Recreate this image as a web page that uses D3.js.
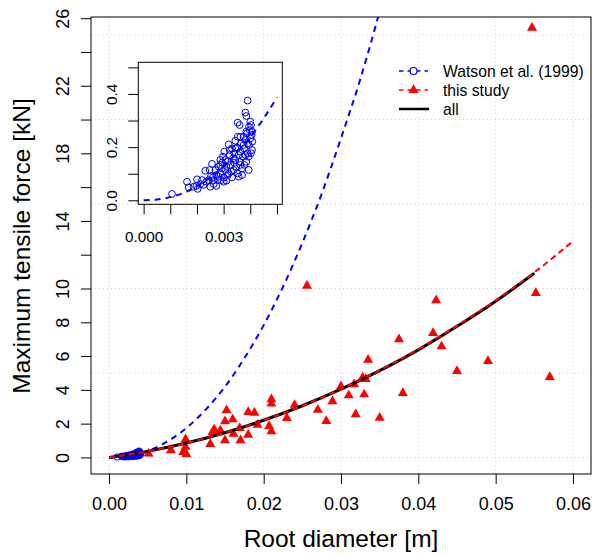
<!DOCTYPE html>
<html><head><meta charset="utf-8">
<script src="https://cdn.jsdelivr.net/npm/d3@7"></script>
<style>
html,body{margin:0;padding:0;background:#fff;}
svg{display:block;font-family:"Liberation Sans",Arial,Helvetica,sans-serif;}
</style></head><body>
<svg id="chart" width="592" height="555"></svg>
<script>
// ---------- data ----------
const studyDiameter = [0.0051,0.0080,0.0099,0.0099,0.0096,0.0100,0.0131,0.0134,0.0136,0.0144,0.0150,0.0150,0.0152,0.0160,0.0161,0.0169,0.0170,0.0180,0.0180,0.0188,0.0192,0.0207,0.0210,0.0210,0.0210,
  0.0256,0.0423,0.0552,0.0419,0.0375,0.0430,0.0335,0.0490,0.0450,0.0570,0.0328,0.0332,0.0300,0.0317,0.0310,0.0330,0.0380,0.0240,0.0289,0.0270,0.0319,0.0350,0.0281,0.0230,0.0547];
const studyForce = [0.22,0.42,1.07,0.62,0.32,0.20,0.79,1.50,1.66,1.60,1.01,2.14,2.79,2.25,1.40,1.74,1.01,2.69,1.34,2.64,1.93,1.86,1.54,3.44,3.18,
  10.16,9.30,9.73,7.36,6.99,6.57,5.78,5.70,5.11,4.76,4.73,4.64,4.21,4.33,3.67,3.73,3.81,3.11,3.32,2.82,2.55,2.35,2.15,2.33,25.43];

const watsonDiameter = [0.001064,0.001626,0.001689,0.002001,0.002026,0.001976,0.002126,0.002314,0.002439,0.002501,
  0.002626,0.002564,0.002726,0.002776,0.002351,0.002251,0.002526,0.002689,0.002814,0.002876,
  0.002939,0.003001,0.003064,0.003101,0.003151,0.002976,0.003026,0.003189,0.003226,0.003251,
  0.003276,0.003351,0.003401,0.003439,0.003476,0.003501,0.003526,0.003564,0.003601,0.003626,
  0.003651,0.003689,0.003726,0.003751,0.003776,0.003814,0.003851,0.003876,0.003901,0.003939,
  0.003951,0.003976,0.004001,0.004026,0.004051,0.004064,0.004076,0.004001,0.003901,0.003814,
  0.003851,0.003526,0.003601,0.003151,0.002901,0.002814,0.002601,0.002476,0.003101,0.003376,
  0.003314,0.003439,0.003564,0.003814,0.003689,0.003226,0.003064,0.002939,0.002726,0.002876,
  0.003314,0.003626,0.003776,0.003901,0.003939,0.004026,0.003851,0.003751,0.003439,0.003001,
  0.002626,0.002189,0.001876,0.003626,0.003401,0.003189,0.002876,0.003526,0.003951,0.004064];
const watsonForce = [0.024,0.070,0.049,0.079,0.043,0.054,0.061,0.111,0.076,0.051,
  0.061,0.137,0.054,0.076,0.070,0.058,0.091,0.114,0.127,0.101,
  0.142,0.086,0.114,0.074,0.095,0.164,0.183,0.210,0.189,0.133,
  0.108,0.158,0.177,0.224,0.126,0.198,0.101,0.089,0.145,0.183,
  0.214,0.120,0.164,0.239,0.195,0.227,0.145,0.252,0.177,0.114,
  0.208,0.264,0.233,0.283,0.246,0.189,0.221,0.296,0.375,0.330,
  0.317,0.292,0.283,0.145,0.076,0.089,0.086,0.114,0.129,0.114,
  0.086,0.152,0.170,0.170,0.095,0.170,0.152,0.120,0.095,0.152,
  0.195,0.133,0.133,0.214,0.164,0.177,0.258,0.208,0.195,0.070,
  0.076,0.076,0.051,0.239,0.141,0.101,0.133,0.239,0.277,0.258];

// fitted lines
const watsonFitX = [0,0.0005,0.001,0.0015,0.002,0.0025,0.003,0.0035,0.004,0.0045,0.005,0.0075,0.01,0.0125,0.015,0.0175,0.02,0.0225,0.025,0.0275,0.03,0.0325,0.035];
const watsonFitForce = [0,0.003,0.012,0.028,0.053,0.086,0.128,0.179,0.238,0.308,0.387,0.93,1.74,2.83,4.19,5.87,7.83,10.1,12.7,15.6,18.9,22.4,26.4];
const studyFitX = [0,0.005,0.01,0.015,0.02,0.025,0.03,0.035,0.04,0.045,0.05,0.055,0.06];
const studyFitForce = [0,0.36,0.85,1.46,2.2,3.06,4.05,5.16,6.4,7.8,9.3,10.95,12.8];
const allFitX = [0,0.005,0.01,0.015,0.02,0.025,0.03,0.035,0.04,0.045,0.05,0.055];
const allFitForce = [0,0.36,0.85,1.46,2.2,3.06,4.04,5.14,6.37,7.76,9.25,10.9];

// axes / ticks
const xTickValues = [0,0.01,0.02,0.03,0.04,0.05,0.06];
const yTickValues = [0,2,4,6,8,10,12,14,16,18,20,22,24,26];
const yLabelValues = [0,2,4,6,8,10,14,18,22,26];
const gridXValues = [0,0.01,0.02,0.03,0.04,0.05,0.06];
const gridYValues = [0,5,10,15,20,25];
const insetXTickValues = [0,0.001,0.002,0.003,0.004,0.005];
const insetXLabelValues = [0,0.003];
const insetYTickValues = [0,0.1,0.2,0.3,0.4,0.5];
const insetYLabelValues = [0,0.2,0.4];
const legendLabels = ["Watson et al. (1999)","this study","all"];
const xTitle = "Root diameter [m]";
const yTitle = "Maximum tensile force [kN]";

// ---------- drawing ----------
const svg = d3.select("#chart");
const box = {l:91, r:591, t:17, b:474};
const x = d3.scaleLinear().domain([-0.00233,0.06233]).range([box.l, box.r]);
const y = d3.scaleLinear().domain([-0.98,26.07]).range([box.b, box.t]);

const BLUE = "#0000ff", RED = "#ff0000";
const triPath = "M0,-5.77L5,2.89L-5,2.89Z";

svg.append("defs").append("clipPath").attr("id","clipMain")
  .append("rect").attr("x",box.l).attr("y",box.t).attr("width",box.r-box.l).attr("height",box.b-box.t);

// grid
const grid = svg.append("g").attr("stroke","#d3d3d3").attr("stroke-width",1).attr("stroke-dasharray","1,3");
grid.selectAll(".gx").data(gridXValues).join("line")
  .attr("x1",d=>x(d)).attr("x2",d=>x(d)).attr("y1",box.t).attr("y2",box.b);
grid.selectAll(".gy").data(gridYValues).join("line")
  .attr("y1",d=>y(d)).attr("y2",d=>y(d)).attr("x1",box.l).attr("x2",box.r);

// axes
const xAxis = svg.append("g").attr("transform",`translate(0,${box.b})`)
  .call(d3.axisBottom(x).tickValues(xTickValues).tickSize(10).tickFormat(d3.format(".2f")));
xAxis.select(".domain").remove();
xAxis.selectAll("line").attr("stroke","#000");
xAxis.selectAll("text").attr("y",36).attr("dy",0).attr("font-size",18).attr("fill","#000")
  .attr("font-family","'Liberation Sans',Arial,sans-serif");

const yAxis = svg.append("g").attr("transform",`translate(${box.l},0)`)
  .call(d3.axisLeft(y).tickValues(yTickValues).tickSize(10).tickFormat(d=>yLabelValues.includes(d)?d:""));
yAxis.select(".domain").remove();
yAxis.selectAll("line").attr("stroke","#000");
yAxis.selectAll("text").attr("transform","rotate(-90)").attr("x",0).attr("y",-22).attr("dy",0)
  .attr("text-anchor","middle").attr("font-size",18).attr("fill","#000")
  .attr("font-family","'Liberation Sans',Arial,sans-serif");

// main plot contents
const plot = svg.append("g").attr("clip-path","url(#clipMain)");
plot.append("g").selectAll("circle").data(watsonDiameter.map((d,i)=>[d,watsonForce[i]])).join("circle")
  .attr("cx",d=>x(d[0])).attr("cy",d=>y(d[1])).attr("r",3.2)
  .attr("fill","none").attr("stroke",BLUE).attr("stroke-width",1);
plot.append("g").selectAll("path").data(studyDiameter.map((d,i)=>[d,studyForce[i]])).join("path")
  .attr("d",triPath).attr("transform",d=>`translate(${x(d[0])},${y(d[1])})`).attr("fill",RED);

const mkLine = (sx,sy)=>d3.line().x(d=>sx(d[0])).y(d=>sy(d[1])).curve(d3.curveMonotoneX);
plot.append("path").datum(watsonFitX.map((d,i)=>[d,watsonFitForce[i]]))
  .attr("d",mkLine(x,y)).attr("fill","none").attr("stroke",BLUE).attr("stroke-width",2).attr("stroke-dasharray","6,5");
plot.append("path").datum(allFitX.map((d,i)=>[d,allFitForce[i]]))
  .attr("d",mkLine(x,y)).attr("fill","none").attr("stroke","#000").attr("stroke-width",3);
plot.append("path").datum(studyFitX.map((d,i)=>[d,studyFitForce[i]]))
  .attr("d",mkLine(x,y)).attr("fill","none").attr("stroke",RED).attr("stroke-width",2).attr("stroke-dasharray","6,4");

// box
svg.append("rect").attr("x",box.l).attr("y",box.t).attr("width",box.r-box.l).attr("height",box.b-box.t)
  .attr("fill","none").attr("stroke","#000").attr("stroke-width",1);

// titles
svg.append("text").attr("x",(box.l+box.r)/2).attr("y",547).attr("text-anchor","middle")
  .attr("font-size",24.5).attr("fill","#000").text(xTitle);
svg.append("text").attr("transform","translate(30,246) rotate(-90)").attr("text-anchor","middle")
  .attr("font-size",24.5).attr("fill","#000").text(yTitle);

// legend
const leg = svg.append("g");
const legY = [71,90,109];
// Watson
leg.append("line").attr("x1",399).attr("x2",428).attr("y1",legY[0]).attr("y2",legY[0])
  .attr("stroke",BLUE).attr("stroke-width",1.5).attr("stroke-dasharray","4.5,4");
leg.append("circle").attr("cx",413.5).attr("cy",legY[0]).attr("r",3.5).attr("fill","#fff").attr("stroke",BLUE).attr("stroke-width",1.2);
// study
leg.append("line").attr("x1",399).attr("x2",428).attr("y1",legY[1]).attr("y2",legY[1])
  .attr("stroke",RED).attr("stroke-width",1.5).attr("stroke-dasharray","4.5,4");
leg.append("path").attr("d",triPath).attr("transform",`translate(413.5,${legY[1]})`).attr("fill",RED);
// all
leg.append("line").attr("x1",399).attr("x2",429).attr("y1",legY[2]).attr("y2",legY[2])
  .attr("stroke","#000").attr("stroke-width",2.5);
leg.selectAll("text").data(legendLabels).join("text")
  .attr("x",443).attr("y",(d,i)=>legY[i]+5.7).attr("font-size",15.7).attr("fill","#000").text(d=>d);

// ---------- inset ----------
const ib = {l:138.3, r:282.3, t:62.3, b:204.3};
const ix = d3.scaleLinear().domain([-0.0002,0.0052]).range([ib.l, ib.r]);
const iy = d3.scaleLinear().domain([-0.015,0.519]).range([ib.b, ib.t]);

const ixAxis = svg.append("g").attr("transform",`translate(0,${ib.b})`)
  .call(d3.axisBottom(ix).tickValues(insetXTickValues).tickSize(10)
    .tickFormat(d=>insetXLabelValues.some(v=>Math.abs(v-d)<1e-9)?d3.format(".3f")(d):""));
ixAxis.select(".domain").remove();
ixAxis.selectAll("line").attr("stroke","#000");
ixAxis.selectAll("text").attr("y",37.4).attr("dy",0).attr("font-size",15.3).attr("fill","#000")
  .attr("font-family","'Liberation Sans',Arial,sans-serif");

const iyAxis = svg.append("g").attr("transform",`translate(${ib.l},0)`)
  .call(d3.axisLeft(iy).tickValues(insetYTickValues).tickSize(10)
    .tickFormat(d=>insetYLabelValues.some(v=>Math.abs(v-d)<1e-9)?d3.format(".1f")(d):""));
iyAxis.select(".domain").remove();
iyAxis.selectAll("line").attr("stroke","#000");
iyAxis.selectAll("text").attr("transform","rotate(-90)").attr("x",0).attr("y",-21.5).attr("dy",0)
  .attr("text-anchor","middle").attr("font-size",15.3).attr("fill","#000")
  .attr("font-family","'Liberation Sans',Arial,sans-serif");

const inset = svg.append("g");
inset.append("path").datum(watsonFitX.filter(d=>d<=0.005).map((d,i)=>[d,watsonFitForce[i]]))
  .attr("d",mkLine(ix,iy)).attr("fill","none").attr("stroke",BLUE).attr("stroke-width",2).attr("stroke-dasharray","6,5");
inset.append("g").selectAll("circle").data(watsonDiameter.map((d,i)=>[d,watsonForce[i]])).join("circle")
  .attr("cx",d=>ix(d[0])).attr("cy",d=>iy(d[1])).attr("r",3.4)
  .attr("fill","none").attr("stroke",BLUE).attr("stroke-width",1);
svg.append("rect").attr("x",ib.l).attr("y",ib.t).attr("width",ib.r-ib.l).attr("height",ib.b-ib.t)
  .attr("fill","none").attr("stroke","#000").attr("stroke-width",1);
</script>
</body></html>
